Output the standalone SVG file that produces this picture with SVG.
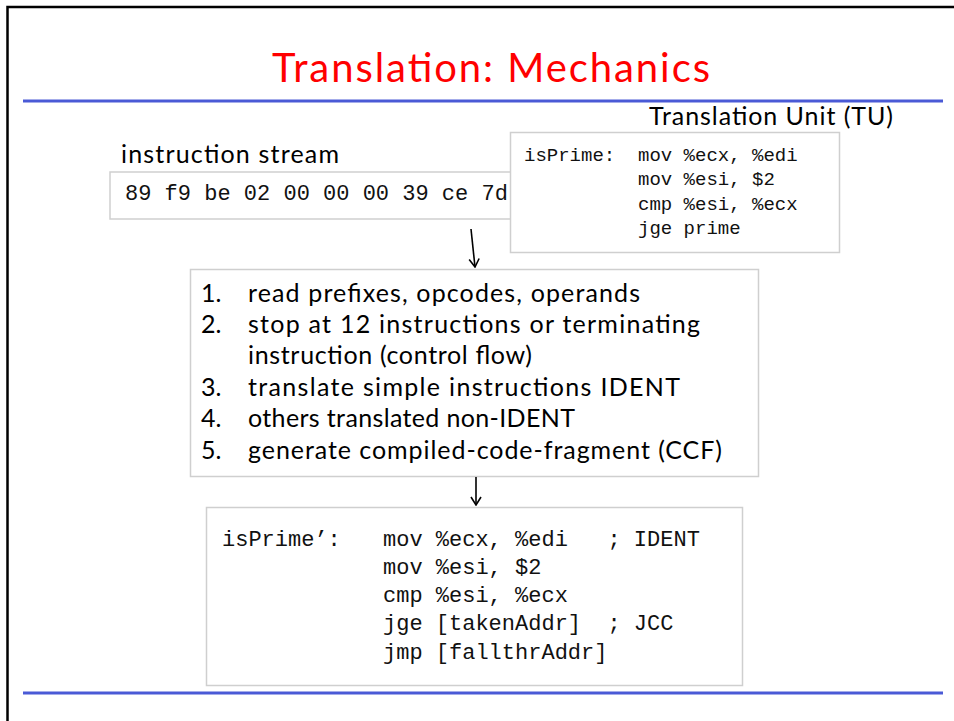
<svg xmlns="http://www.w3.org/2000/svg" width="954" height="721" viewBox="0 0 954 721">
  <style>
    .hand { font-family: "Comic Sans MS", "Lato", "Open Sans", sans-serif; fill: #000; }
    .mono { font-family: "Liberation Mono", "DejaVu Sans Mono", monospace; fill: #111; white-space: pre; }
    .box { fill: #fff; stroke: #cfcfcf; stroke-width: 1.5; }
    .rule { stroke: #4a5ad6; stroke-width: 3; }
    .edge { fill: none; stroke: #000; stroke-width: 1.6; }
  </style>
  <defs>
    <marker id="arrow" viewBox="0 0 12 12" refX="11" refY="6" markerWidth="12" markerHeight="12" markerUnits="userSpaceOnUse" orient="auto">
      <path d="M3,1 L11,6 L3,11" fill="none" stroke="#000" stroke-width="1.6"/>
    </marker>
  </defs>

  <rect width="954" height="721" fill="#fff"/>

  <!-- slide frame -->
  <path d="M7.5,721 V7 H954" fill="none" stroke="#000" stroke-width="2.5"/>

  <!-- title and rules -->
  <text x="491" y="82" class="hand" font-size="40" text-anchor="middle" style="fill:#ff0000" textLength="438" lengthAdjust="spacing">Translation: Mechanics</text>
  <line class="rule" x1="23" y1="101" x2="943" y2="101"/>
  <line class="rule" x1="23" y1="693" x2="943" y2="693"/>

  <!-- instruction stream -->
  <g id="instruction-stream">
    <text x="121" y="163" class="hand" font-size="25" textLength="218" lengthAdjust="spacing">instruction stream</text>
    <rect class="box" x="110" y="172" width="410" height="47"/>
    <text x="125" y="200" class="mono" font-size="22" xml:space="preserve">89 f9 be 02 00 00 00 39 ce 7d</text>
  </g>

  <!-- translation unit -->
  <g id="translation-unit">
    <text x="649" y="125" class="hand" font-size="25" textLength="244" lengthAdjust="spacing">Translation Unit (TU)</text>
    <rect class="box" x="510.5" y="132.5" width="329" height="120"/>
    <g class="mono" font-size="19">
      <text x="524" y="161">isPrime:</text>
      <text x="638" y="161" xml:space="preserve">mov %ecx, %edi</text>
      <text x="638" y="185" xml:space="preserve">mov %esi, $2</text>
      <text x="638" y="210" xml:space="preserve">cmp %esi, %ecx</text>
      <text x="638" y="234" xml:space="preserve">jge prime</text>
    </g>
  </g>

  <!-- translation steps -->
  <g id="steps">
    <rect class="box" x="190.5" y="269.5" width="568" height="207"/>
    <g class="hand" font-size="25">
      <text x="201" y="302">1.</text>
      <text x="248" y="302" textLength="392" lengthAdjust="spacing">read prefixes, opcodes, operands</text>
      <text x="201" y="333">2.</text>
      <text x="248" y="333" textLength="452" lengthAdjust="spacing">stop at 12 instructions or terminating</text>
      <text x="248" y="364" textLength="284" lengthAdjust="spacing">instruction (control flow)</text>
      <text x="201" y="396">3.</text>
      <text x="248" y="396" textLength="432" lengthAdjust="spacing">translate simple instructions IDENT</text>
      <text x="201" y="427">4.</text>
      <text x="248" y="427" textLength="327" lengthAdjust="spacing">others translated non-IDENT</text>
      <text x="201" y="459">5.</text>
      <text x="248" y="459" textLength="474" lengthAdjust="spacing">generate compiled-code-fragment (CCF)</text>
    </g>
  </g>

  <!-- compiled code fragment -->
  <g id="ccf">
    <rect class="box" x="206.5" y="507.5" width="536" height="178"/>
    <g class="mono" font-size="22">
      <text x="222" y="546">isPrime’:</text>
      <text x="383" y="546" xml:space="preserve">mov %ecx, %edi   ; IDENT</text>
      <text x="383" y="574" xml:space="preserve">mov %esi, $2</text>
      <text x="383" y="602" xml:space="preserve">cmp %esi, %ecx</text>
      <text x="383" y="630" xml:space="preserve">jge [takenAddr]  ; JCC</text>
      <text x="383" y="659" xml:space="preserve">jmp [fallthrAddr]</text>
    </g>
  </g>

  <!-- connectors -->
  <g id="connectors">
    <line class="edge" x1="471" y1="229" x2="475" y2="267" marker-end="url(#arrow)"/>
    <line class="edge" x1="476" y1="477" x2="476" y2="505" marker-end="url(#arrow)"/>
  </g>
</svg>
